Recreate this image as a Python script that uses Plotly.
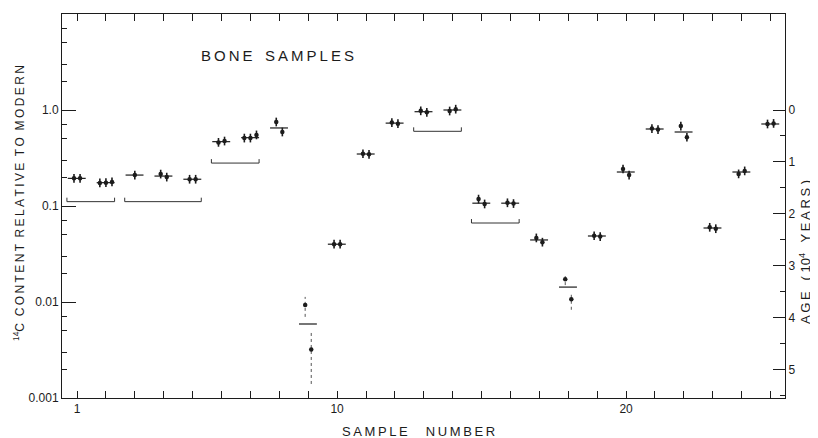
import math
import plotly.graph_objects as go

# ---------------- data ----------------
samples = list(range(1, 26))
mean_values = [0.194, 0.175, 0.21, 0.205, 0.19, 0.468, 0.515, 0.65, 0.0059, 0.040,
               0.348, 0.73, 0.96, 1.0, 0.107, 0.107, 0.0443, 0.0143, 0.0487, 0.226,
               0.634, 0.59, 0.059, 0.226, 0.715]
measured = [[0.194, 0.194], [0.174, 0.175, 0.178], [0.21], [0.215, 0.2], [0.19, 0.19],
            [0.46, 0.475], [0.51, 0.51, 0.55], [0.75, 0.59], [0.0093, 0.0032], [0.040, 0.040],
            [0.35, 0.345], [0.74, 0.72], [0.98, 0.946], [0.976, 1.02], [0.118, 0.105],
            [0.108, 0.106], [0.0465, 0.042], [0.0173, 0.0107], [0.049, 0.048], [0.243, 0.21],
            [0.64, 0.625], [0.68, 0.52], [0.06, 0.058], [0.216, 0.232], [0.715, 0.725]]
relative_error = 0.11
wide_errors = {9: [(0.0070, 0.0113), (0.0014, 0.0051)],
               18: [(0.0150, 0.0200), (0.0083, 0.0124)]}
bracket_groups = [(1, 2, 0.111), (3, 5, 0.111), (6, 7, 0.28), (13, 14, 0.60), (15, 16, 0.0665)]
y_tick_vals = [0.001, 0.01, 0.1, 1.0]
y_tick_text = ["0.001", "0.01", "0.1", "1.0"]
x_tick_labels = {1: "1", 10: "10", 20: "20"}
age_ticks = [0, 1, 2, 3, 4, 5]
mean_life_years = 8033

INK = "#1c1c1c"
FONT = "Liberation Sans"
THIN = "\u2009"


def spaced(words, gap="   "):
    return gap.join(THIN.join(w) for w in words)


# decades of 14C content per 10^4 years
dec_per_unit = 1e4 / (mean_life_years * math.log(10))
y_log_range = [-3, 1]
age_range = [-y_log_range[0] / dec_per_unit, -y_log_range[1] / dec_per_unit]

fig = go.Figure()

# mean lines
mx, my = [], []
for s, m in zip(samples, mean_values):
    mx += [s - 0.32, s + 0.30, None]
    my += [m, m, None]
fig.add_trace(go.Scatter(x=mx, y=my, mode="lines", line=dict(color=INK, width=1.2),
                         hoverinfo="skip", showlegend=False))

# individual measurements
px, py = [], []
ex, ey = [], []
dx, dy = [], []
for s, vals in zip(samples, measured):
    n = len(vals)
    for i, v in enumerate(vals):
        xo = s + (i - (n - 1) / 2) * 0.21
        px.append(xo)
        py.append(v)
        if s in wide_errors:
            lo, hi = wide_errors[s][i]
            dx += [xo, xo, None]
            dy += [lo, hi, None]
        else:
            ex += [xo, xo, None]
            ey += [v / (1 + relative_error), v * (1 + relative_error), None]

fig.add_trace(go.Scatter(x=ex, y=ey, mode="lines", line=dict(color=INK, width=1.6),
                         hoverinfo="skip", showlegend=False))
fig.add_trace(go.Scatter(x=dx, y=dy, mode="lines", line=dict(color="#555", width=1, dash="dot"),
                         hoverinfo="skip", showlegend=False))
fig.add_trace(go.Scatter(x=px, y=py, mode="markers",
                         marker=dict(color=INK, size=4.5, line=dict(width=0)),
                         hoverinfo="skip", showlegend=False))

# brackets grouping samples
bx, by = [], []
for a, b, lvl in bracket_groups:
    bx += [a - 0.35, a - 0.35, b + 0.30, b + 0.30, None]
    by += [lvl * 1.1, lvl, lvl, lvl * 1.1, None]
fig.add_trace(go.Scatter(x=bx, y=by, mode="lines", line=dict(color="#333", width=1),
                         hoverinfo="skip", showlegend=False))

# dummy trace for age axis
fig.add_trace(go.Scatter(x=[1], y=[0], yaxis="y2", mode="markers",
                         marker=dict(opacity=0), hoverinfo="skip", showlegend=False))

minor_log = []
for d in [0.001, 0.01, 0.1, 1.0]:
    for k in [2, 3, 5, 7]:
        minor_log.append(d * k)

# page body has an 8px margin: figure occupies 810x430 of the 818x438 window
W, H = 810, 430
ML, MR, MT, MB = 54, 33, 6, 40
PW = W - ML - MR
PH = H - MT - MB
# reference plot-area frame (window px): left 62, right 785, top 14, bottom 398
RL, RB = 62, 398


def ax_x(px_):
    return (px_ - RL) / PW


def ax_y(py_):
    return (RB - py_) / PH


fig.update_layout(
    width=W, height=H,
    margin=dict(l=ML, r=MR, t=MT, b=MB, autoexpand=False),
    paper_bgcolor="white", plot_bgcolor="white",
    font=dict(family=FONT, color=INK, size=12),
    xaxis=dict(
        range=[0.48, 25.5], tickmode="array", tickvals=samples,
        ticktext=[x_tick_labels.get(s, "") for s in samples],
        ticks="inside", ticklen=7, tickwidth=1, tickcolor=INK,
        showline=True, linecolor=INK, linewidth=1, mirror="ticks",
        showgrid=False, zeroline=False, tickfont=dict(size=12), automargin=False,
    ),
    yaxis=dict(
        type="log", range=y_log_range, tickmode="array",
        tickvals=y_tick_vals, ticktext=y_tick_text,
        ticks="inside", ticklen=14, tickwidth=1, tickcolor=INK,
        minor=dict(tickvals=minor_log, ticks="inside", ticklen=5, tickcolor=INK, showgrid=False),
        showline=True, linecolor=INK, linewidth=1,
        showgrid=False, zeroline=False, tickfont=dict(size=12), automargin=False,
    ),
    yaxis2=dict(
        overlaying="y", side="right", anchor="x",
        range=age_range, tickmode="array", tickvals=age_ticks,
        ticktext=[str(a) for a in age_ticks],
        ticks="inside", ticklen=12, tickwidth=1, tickcolor=INK,
        minor=dict(tickvals=[a + 0.5 for a in age_ticks], ticks="inside", ticklen=5, tickcolor=INK),
        showline=True, linecolor=INK, linewidth=1,
        showgrid=False, zeroline=False, tickfont=dict(size=12), automargin=False,
    ),
    annotations=[
        dict(text=spaced(["BONE", "SAMPLES"], "   "), x=ax_x(277), y=ax_y(55),
             xref="paper", yref="paper", xanchor="center", yanchor="middle",
             showarrow=False, font=dict(size=15, family=FONT, color=INK)),
        dict(text=spaced(["SAMPLE", "NUMBER"], "     "), x=ax_x(418), y=ax_y(431),
             xref="paper", yref="paper", xanchor="center", yanchor="middle",
             showarrow=False, font=dict(size=13, family=FONT, color=INK)),
        dict(text="<sup>14</sup>C  " + spaced(["CONTENT", "RELATIVE", "TO", "MODERN"], "  "), textangle=-90,
             x=ax_x(19), y=ax_y(203), xref="paper", yref="paper",
             xanchor="center", yanchor="middle", showarrow=False,
             font=dict(size=12, family=FONT, color=INK)),
        dict(text=spaced(["AGE"]) + "   ( 10<sup>4</sup>   " + spaced(["YEARS"]) + " )", textangle=-90,
             x=ax_x(805), y=ax_y(252), xref="paper", yref="paper",
             xanchor="center", yanchor="middle", showarrow=False,
             font=dict(size=13, family=FONT, color=INK)),
    ],
)

fig.write_html("out.html")
